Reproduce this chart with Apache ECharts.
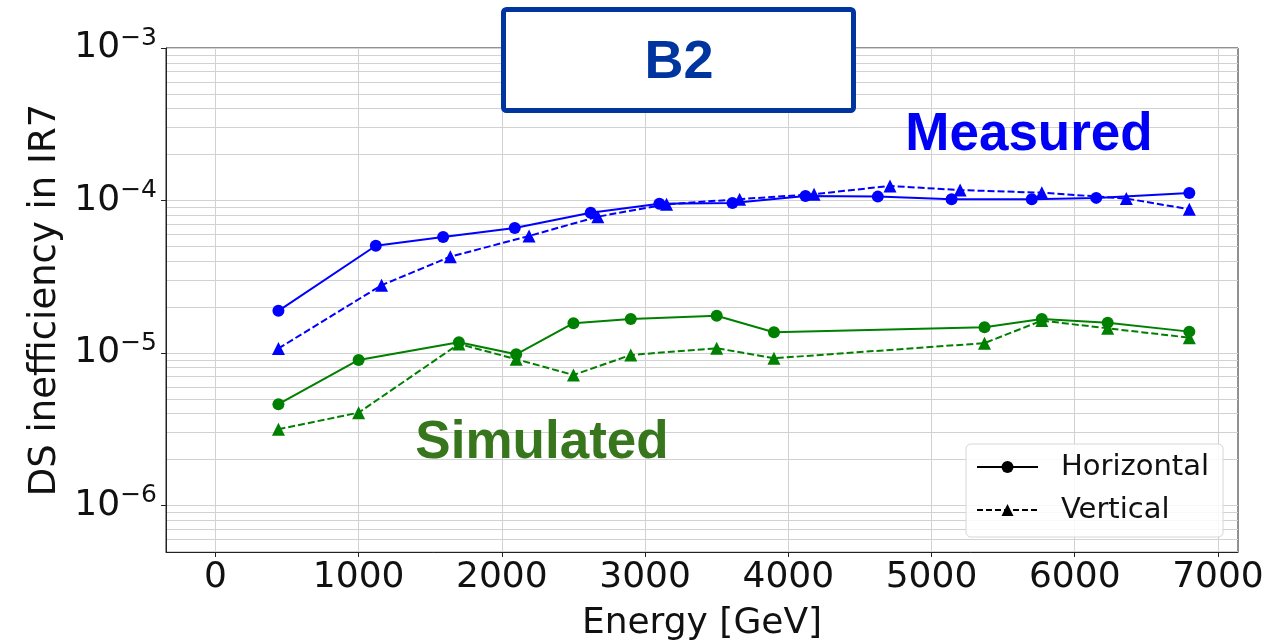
<!DOCTYPE html>
<html>
<head>
<meta charset="utf-8">
<script src="https://cdn.jsdelivr.net/npm/echarts@6/dist/echarts.min.js"></script>
<style>
    html, body { margin: 0; padding: 0; background: #fff; }
    #chart { width: 1270px; height: 640px; }
</style>
</head>
<body>
<div id="chart"></div>
<script>
    // energies [GeV] and DS inefficiency values
    const energyMeasH = [440, 1120, 1590, 2090, 2620, 3100, 3610, 4120, 4625, 5140, 5700, 6150, 6800];
    const measuredH = [1.89e-5, 5.05e-5, 5.76e-5, 6.6e-5, 8.32e-5, 9.53e-5, 9.63e-5, 1.07e-4, 1.06e-4, 1.02e-4, 1.02e-4, 1.04e-4, 1.12e-4];
    const energyMeasV = [440, 1160, 1640, 2190, 2670, 3150, 3660, 4180, 4710, 5200, 5770, 6360, 6800];
    const measuredV = [1.07e-5, 2.78e-5, 4.28e-5, 5.85e-5, 7.83e-5, 9.44e-5, 1.02e-4, 1.10e-4, 1.245e-4, 1.17e-4, 1.125e-4, 1.03e-4, 8.76e-5];
    const energySim = [440, 1000, 1700, 2100, 2500, 2900, 3500, 3900, 5370, 5770, 6230, 6800];
    const simulatedH = [4.61e-6, 9.0e-6, 1.175e-5, 9.8e-6, 1.567e-5, 1.672e-5, 1.756e-5, 1.368e-5, 1.474e-5, 1.672e-5, 1.58e-5, 1.38e-5];
    const simulatedV = [3.16e-6, 4.06e-6, 1.146e-5, 9.1e-6, 7.17e-6, 9.7e-6, 1.074e-5, 9.23e-6, 1.16e-5, 1.63e-5, 1.45e-5, 1.26e-5];

    const xTicks = [0, 1000, 2000, 3000, 4000, 5000, 6000, 7000];
    const decades = [-7, -6, -5, -4];

    const xMin = -345, xMax = 7140;
    const yMin = 4.95e-7, yMax = 1e-3;

    // minor log grid lines 2..9 x 10^k
    let minorVals = [];
    decades.forEach(function (k) {
        for (let m = 2; m <= 9; m++) {
            let v = m * Math.pow(10, k);
            if (v > yMin && v < yMax) minorVals.push(v);
        }
    });

    function pairs(xs, ys) {
        return xs.map(function (x, i) { return [x, ys[i]]; });
    }

    const font = 'DejaVu Sans';
    const blue = '#0000ff';
    const green = '#008000';
    const gridColor = '#d2d2d2';

    let gridLines = minorVals.map(function (v) {
        return [{ coord: [xMin, v] }, { coord: [xMax, v] }];
    }).concat(xTicks.map(function (v) {
        return [{ coord: [v, yMin] }, { coord: [v, yMax] }];
    }));

    let option = {
        animation: false,
        backgroundColor: '#fff',
        grid: {
            left: 166, right: 32, top: 48, bottom: 88,
            outerBoundsMode: 'none',
            containLabel: false,
            show: true,
            borderColor: '#222',
            borderWidth: 1
        },
        legend: {
            data: ['Horizontal', 'Vertical'],
            orient: 'vertical',
            left: 966,
            top: 444,
            padding: [8, 14, 12, 10],
            itemGap: 13,
            itemWidth: 61,
            itemHeight: 15,
            backgroundColor: 'rgba(255,255,255,0.85)',
            borderColor: '#d6d6d6',
            borderWidth: 1,
            borderRadius: 5,
            textStyle: {
                fontFamily: font,
                fontSize: 29,
                color: '#111',
                lineHeight: 30,
                padding: [0, 0, 0, 18]
            }
        },
        xAxis: {
            type: 'value',
            min: xMin,
            max: xMax,
            name: 'Energy [GeV]',
            nameLocation: 'middle',
            nameGap: 54,
            nameTextStyle: { fontFamily: font, fontSize: 36, color: '#111' },
            axisLine: { show: true, onZero: false, lineStyle: { color: '#222', width: 1 } },
            axisTick: { show: true, length: 5, customValues: xTicks, lineStyle: { color: '#222' } },
            axisLabel: {
                fontFamily: font, fontSize: 36, color: '#111', margin: 8,
                customValues: xTicks,
                formatter: function (v) { return String(v); }
            },
            splitLine: { show: false }
        },
        yAxis: {
            type: 'log',
            logBase: 10,
            min: yMin,
            max: yMax,
            name: 'DS inefficiency in IR7',
            nameLocation: 'middle',
            nameGap: 101,
            nameTextStyle: { fontFamily: font, fontSize: 37, color: '#111' },
            axisLine: { show: true, onZero: false, lineStyle: { color: '#222', width: 1 } },
            axisTick: { show: true, length: 5, lineStyle: { color: '#222' } },
            axisLabel: {
                margin: 9,
                showMinLabel: false,
                formatter: function (v) {
                    let e = Math.round(Math.log10(v));
                    return '{b|10}{s|\u2212' + Math.abs(e) + '}';
                },
                rich: {
                    b: { fontFamily: font, fontSize: 36, color: '#111', lineHeight: 44 },
                    s: { fontFamily: font, fontSize: 25, color: '#111', lineHeight: 25, verticalAlign: 'top' }
                }
            },
            splitLine: { show: true, lineStyle: { color: gridColor, width: 1 } }
        },
        graphic: [
            {
                type: 'rect',
                zlevel: 1,
                z: 100,
                shape: { x: 503.5, y: 9.5, width: 350, height: 101, r: 3 },
                style: { fill: '#fff', stroke: '#0035a0', lineWidth: 5 }
            },
            {
                type: 'text',
                zlevel: 1,
                z: 101,
                x: 679, y: 63,
                style: {
                    text: 'B2', fill: '#0035a0',
                    font: 'bold 54px "Liberation Sans"',
                    textAlign: 'center', textVerticalAlign: 'middle'
                }
            },
            {
                type: 'text',
                zlevel: 1,
                z: 100,
                x: 1029, y: 135,
                style: {
                    text: 'Measured', fill: '#0000f5',
                    font: 'bold 53px "Liberation Sans"',
                    textAlign: 'center', textVerticalAlign: 'middle'
                }
            },
            {
                type: 'text',
                zlevel: 1,
                z: 100,
                x: 542, y: 443,
                style: {
                    text: 'Simulated', fill: '#38761d',
                    font: 'bold 53px "Liberation Sans"',
                    textAlign: 'center', textVerticalAlign: 'middle'
                }
            }
        ],
        series: [
            // legend-only entries in black
            {
                name: 'Horizontal', type: 'line', data: [],
                symbol: 'circle', symbolSize: 12,
                itemStyle: { color: '#000' },
                lineStyle: { color: '#000', width: 2 }
            },
            {
                name: 'Vertical', type: 'line', data: [],
                symbol: 'triangle', symbolSize: 12,
                itemStyle: { color: '#000' },
                lineStyle: { color: '#000', width: 2, type: [6, 3] }
            },
            {
                name: 'Measured H', type: 'line', data: pairs(energyMeasH, measuredH),
                symbol: 'circle', symbolSize: 12,
                itemStyle: { color: blue },
                lineStyle: { color: blue, width: 2 },
                // grid lines: minor log lines and vertical lines at the x ticks
                markLine: {
                    silent: true,
                    symbol: 'none',
                    z: 0,
                    label: { show: false },
                    lineStyle: { color: gridColor, width: 1, type: 'solid' },
                    emphasis: { disabled: true },
                    data: gridLines
                }
            },
            {
                name: 'Measured V', type: 'line', data: pairs(energyMeasV, measuredV),
                symbol: 'triangle', symbolSize: 13,
                itemStyle: { color: blue },
                lineStyle: { color: blue, width: 2, type: [7, 3] }
            },
            {
                name: 'Simulated H', type: 'line', data: pairs(energySim, simulatedH),
                symbol: 'circle', symbolSize: 12,
                itemStyle: { color: green },
                lineStyle: { color: green, width: 2 }
            },
            {
                name: 'Simulated V', type: 'line', data: pairs(energySim, simulatedV),
                symbol: 'triangle', symbolSize: 13,
                itemStyle: { color: green },
                lineStyle: { color: green, width: 2, type: [7, 3] }
            }
        ]
    };

    let myChart = echarts.init(document.getElementById('chart'));
    myChart.setOption(option);
</script>
</body>
</html>
